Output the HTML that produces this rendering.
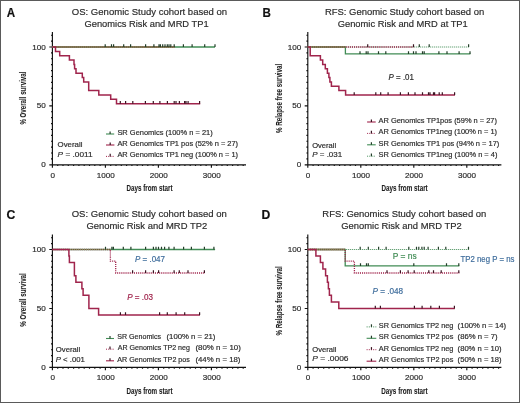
<!DOCTYPE html>
<html><head><meta charset="utf-8"><style>
html,body{margin:0;padding:0;background:#fff;width:520px;height:403px;overflow:hidden;font-family:"Liberation Sans",sans-serif}
</style></head><body>
<svg width="520" height="403" viewBox="0 0 520 403" style="position:absolute;left:0;top:0;will-change:transform;filter:blur(0.3px)">
<g font-family='"Liberation Sans", sans-serif'>
<text x="6.70" y="17.00" font-size="12.3" font-weight="bold" fill="#111" text-anchor="start" textLength="8.40" lengthAdjust="spacingAndGlyphs"  stroke="#111" stroke-width="0.18">A</text>
<text x="262.50" y="16.80" font-size="12.3" font-weight="bold" fill="#111" text-anchor="start" textLength="8.40" lengthAdjust="spacingAndGlyphs"  stroke="#111" stroke-width="0.18">B</text>
<text x="6.40" y="219.30" font-size="12.3" font-weight="bold" fill="#111" text-anchor="start" textLength="8.80" lengthAdjust="spacingAndGlyphs"  stroke="#111" stroke-width="0.18">C</text>
<text x="261.60" y="218.90" font-size="12.3" font-weight="bold" fill="#111" text-anchor="start" textLength="8.80" lengthAdjust="spacingAndGlyphs"  stroke="#111" stroke-width="0.18">D</text>
<text x="71.80" y="15.00" font-size="9.8" font-weight="normal" fill="#2b2b2b" text-anchor="start" textLength="155.30" lengthAdjust="spacingAndGlyphs"  stroke="#2b2b2b" stroke-width="0.18">OS: Genomic Study cohort based on</text>
<text x="84.50" y="26.80" font-size="9.8" font-weight="normal" fill="#2b2b2b" text-anchor="start" textLength="124.10" lengthAdjust="spacingAndGlyphs"  stroke="#2b2b2b" stroke-width="0.18">Genomics Risk and MRD TP1</text>
<text x="324.90" y="15.00" font-size="9.8" font-weight="normal" fill="#2b2b2b" text-anchor="start" textLength="159.30" lengthAdjust="spacingAndGlyphs"  stroke="#2b2b2b" stroke-width="0.18">RFS: Genomic Study cohort based on</text>
<text x="337.70" y="26.60" font-size="9.8" font-weight="normal" fill="#2b2b2b" text-anchor="start" textLength="130.10" lengthAdjust="spacingAndGlyphs"  stroke="#2b2b2b" stroke-width="0.18">Genomic Risk and MRD at TP1</text>
<text x="71.70" y="217.30" font-size="9.8" font-weight="normal" fill="#2b2b2b" text-anchor="start" textLength="155.10" lengthAdjust="spacingAndGlyphs"  stroke="#2b2b2b" stroke-width="0.18">OS: Genomic Study cohort based on</text>
<text x="86.40" y="228.80" font-size="9.8" font-weight="normal" fill="#2b2b2b" text-anchor="start" textLength="120.80" lengthAdjust="spacingAndGlyphs"  stroke="#2b2b2b" stroke-width="0.18">Genomic Risk and MRD TP2</text>
<text x="322.30" y="217.30" font-size="9.8" font-weight="normal" fill="#2b2b2b" text-anchor="start" textLength="164.00" lengthAdjust="spacingAndGlyphs"  stroke="#2b2b2b" stroke-width="0.18">RFS: Genomics Study cohort based on</text>
<text x="341.30" y="228.80" font-size="9.8" font-weight="normal" fill="#2b2b2b" text-anchor="start" textLength="120.40" lengthAdjust="spacingAndGlyphs"  stroke="#2b2b2b" stroke-width="0.18">Genomic Risk and MRD TP2</text>
<path d="M52.40 32.00V167.70M49.30 164.80H246.00M51.00 158.91H52.40M51.00 153.02H52.40M51.00 147.13H52.40M51.00 141.24H52.40M51.00 135.35H52.40M51.00 129.46H52.40M51.00 123.57H52.40M51.00 117.68H52.40M51.00 111.79H52.40M49.30 105.90H52.40M51.00 100.01H52.40M51.00 94.12H52.40M51.00 88.23H52.40M51.00 82.34H52.40M51.00 76.45H52.40M51.00 70.56H52.40M51.00 64.67H52.40M51.00 58.78H52.40M51.00 52.89H52.40M49.30 47.00H52.40M51.00 41.11H52.40M51.00 35.22H52.40M57.70 164.80V166.10M63.00 164.80V166.10M68.30 164.80V166.10M73.60 164.80V166.10M78.90 164.80V166.10M84.20 164.80V166.10M89.50 164.80V166.10M94.80 164.80V166.10M100.10 164.80V166.10M105.40 164.80V167.70M110.70 164.80V166.10M116.00 164.80V166.10M121.30 164.80V166.10M126.60 164.80V166.10M131.90 164.80V166.10M137.20 164.80V166.10M142.50 164.80V166.10M147.80 164.80V166.10M153.10 164.80V166.10M158.40 164.80V167.70M163.70 164.80V166.10M169.00 164.80V166.10M174.30 164.80V166.10M179.60 164.80V166.10M184.90 164.80V166.10M190.20 164.80V166.10M195.50 164.80V166.10M200.80 164.80V166.10M206.10 164.80V166.10M211.40 164.80V167.70M216.70 164.80V166.10M222.00 164.80V166.10M227.30 164.80V166.10M232.60 164.80V166.10M237.90 164.80V166.10M243.20 164.80V166.10" stroke="#111" stroke-width="1.15" fill="none"/>
<text x="45.80" y="167.30" font-size="8.1" font-weight="normal" fill="#2b2b2b" text-anchor="end" stroke="#333" stroke-width="0.2">0</text>
<text x="45.80" y="108.40" font-size="8.1" font-weight="normal" fill="#2b2b2b" text-anchor="end" stroke="#333" stroke-width="0.2">50</text>
<text x="45.80" y="49.50" font-size="8.1" font-weight="normal" fill="#2b2b2b" text-anchor="end" stroke="#333" stroke-width="0.2">100</text>
<text x="52.70" y="177.70" font-size="8.1" font-weight="normal" fill="#2b2b2b" text-anchor="middle" stroke="#333" stroke-width="0.2">0</text>
<text x="105.70" y="177.70" font-size="8.1" font-weight="normal" fill="#2b2b2b" text-anchor="middle" stroke="#333" stroke-width="0.2">1000</text>
<text x="158.70" y="177.70" font-size="8.1" font-weight="normal" fill="#2b2b2b" text-anchor="middle" stroke="#333" stroke-width="0.2">2000</text>
<text x="211.70" y="177.70" font-size="8.1" font-weight="normal" fill="#2b2b2b" text-anchor="middle" stroke="#333" stroke-width="0.2">3000</text>
<text x="126.50" y="191.20" font-size="9.7" font-weight="bold" fill="#1e1e1e" text-anchor="start" textLength="46.00" lengthAdjust="spacingAndGlyphs" stroke="#1e1e1e" stroke-width="0.1">Days from start</text>
<g transform="translate(26.40,124.30) rotate(-90)">
<text x="-0.30" y="0.00" font-size="9.5" font-weight="bold" fill="#1e1e1e" text-anchor="start" textLength="53.00" lengthAdjust="spacingAndGlyphs" stroke="#1e1e1e" stroke-width="0.1">% Overall survival</text>
</g>
<path d="M307.80 32.00V167.70M304.70 164.80H501.40M306.40 158.91H307.80M306.40 153.02H307.80M306.40 147.13H307.80M306.40 141.24H307.80M306.40 135.35H307.80M306.40 129.46H307.80M306.40 123.57H307.80M306.40 117.68H307.80M306.40 111.79H307.80M304.70 105.90H307.80M306.40 100.01H307.80M306.40 94.12H307.80M306.40 88.23H307.80M306.40 82.34H307.80M306.40 76.45H307.80M306.40 70.56H307.80M306.40 64.67H307.80M306.40 58.78H307.80M306.40 52.89H307.80M304.70 47.00H307.80M306.40 41.11H307.80M306.40 35.22H307.80M313.10 164.80V166.10M318.40 164.80V166.10M323.70 164.80V166.10M329.00 164.80V166.10M334.30 164.80V166.10M339.60 164.80V166.10M344.90 164.80V166.10M350.20 164.80V166.10M355.50 164.80V166.10M360.80 164.80V167.70M366.10 164.80V166.10M371.40 164.80V166.10M376.70 164.80V166.10M382.00 164.80V166.10M387.30 164.80V166.10M392.60 164.80V166.10M397.90 164.80V166.10M403.20 164.80V166.10M408.50 164.80V166.10M413.80 164.80V167.70M419.10 164.80V166.10M424.40 164.80V166.10M429.70 164.80V166.10M435.00 164.80V166.10M440.30 164.80V166.10M445.60 164.80V166.10M450.90 164.80V166.10M456.20 164.80V166.10M461.50 164.80V166.10M466.80 164.80V167.70M472.10 164.80V166.10M477.40 164.80V166.10M482.70 164.80V166.10M488.00 164.80V166.10M493.30 164.80V166.10M498.60 164.80V166.10" stroke="#111" stroke-width="1.15" fill="none"/>
<text x="301.20" y="167.30" font-size="8.1" font-weight="normal" fill="#2b2b2b" text-anchor="end" stroke="#333" stroke-width="0.2">0</text>
<text x="301.20" y="108.40" font-size="8.1" font-weight="normal" fill="#2b2b2b" text-anchor="end" stroke="#333" stroke-width="0.2">50</text>
<text x="301.20" y="49.50" font-size="8.1" font-weight="normal" fill="#2b2b2b" text-anchor="end" stroke="#333" stroke-width="0.2">100</text>
<text x="308.10" y="177.70" font-size="8.1" font-weight="normal" fill="#2b2b2b" text-anchor="middle" stroke="#333" stroke-width="0.2">0</text>
<text x="361.10" y="177.70" font-size="8.1" font-weight="normal" fill="#2b2b2b" text-anchor="middle" stroke="#333" stroke-width="0.2">1000</text>
<text x="414.10" y="177.70" font-size="8.1" font-weight="normal" fill="#2b2b2b" text-anchor="middle" stroke="#333" stroke-width="0.2">2000</text>
<text x="467.10" y="177.70" font-size="8.1" font-weight="normal" fill="#2b2b2b" text-anchor="middle" stroke="#333" stroke-width="0.2">3000</text>
<text x="381.50" y="191.20" font-size="9.7" font-weight="bold" fill="#1e1e1e" text-anchor="start" textLength="46.20" lengthAdjust="spacingAndGlyphs" stroke="#1e1e1e" stroke-width="0.1">Days from start</text>
<g transform="translate(281.90,132.70) rotate(-90)">
<text x="-0.30" y="0.00" font-size="9.5" font-weight="bold" fill="#1e1e1e" text-anchor="start" textLength="69.20" lengthAdjust="spacingAndGlyphs" stroke="#1e1e1e" stroke-width="0.1">% Relapse free survival</text>
</g>
<path d="M52.40 234.50V370.30M49.30 367.40H246.00M51.00 361.50H52.40M51.00 355.61H52.40M51.00 349.71H52.40M51.00 343.82H52.40M51.00 337.92H52.40M51.00 332.03H52.40M51.00 326.13H52.40M51.00 320.24H52.40M51.00 314.34H52.40M49.30 308.45H52.40M51.00 302.56H52.40M51.00 296.66H52.40M51.00 290.76H52.40M51.00 284.87H52.40M51.00 278.98H52.40M51.00 273.08H52.40M51.00 267.19H52.40M51.00 261.29H52.40M51.00 255.39H52.40M49.30 249.50H52.40M51.00 243.60H52.40M51.00 237.71H52.40M57.70 367.40V368.70M63.00 367.40V368.70M68.30 367.40V368.70M73.60 367.40V368.70M78.90 367.40V368.70M84.20 367.40V368.70M89.50 367.40V368.70M94.80 367.40V368.70M100.10 367.40V368.70M105.40 367.40V370.30M110.70 367.40V368.70M116.00 367.40V368.70M121.30 367.40V368.70M126.60 367.40V368.70M131.90 367.40V368.70M137.20 367.40V368.70M142.50 367.40V368.70M147.80 367.40V368.70M153.10 367.40V368.70M158.40 367.40V370.30M163.70 367.40V368.70M169.00 367.40V368.70M174.30 367.40V368.70M179.60 367.40V368.70M184.90 367.40V368.70M190.20 367.40V368.70M195.50 367.40V368.70M200.80 367.40V368.70M206.10 367.40V368.70M211.40 367.40V370.30M216.70 367.40V368.70M222.00 367.40V368.70M227.30 367.40V368.70M232.60 367.40V368.70M237.90 367.40V368.70M243.20 367.40V368.70" stroke="#111" stroke-width="1.15" fill="none"/>
<text x="45.80" y="369.90" font-size="8.1" font-weight="normal" fill="#2b2b2b" text-anchor="end" stroke="#333" stroke-width="0.2">0</text>
<text x="45.80" y="310.95" font-size="8.1" font-weight="normal" fill="#2b2b2b" text-anchor="end" stroke="#333" stroke-width="0.2">50</text>
<text x="45.80" y="252.00" font-size="8.1" font-weight="normal" fill="#2b2b2b" text-anchor="end" stroke="#333" stroke-width="0.2">100</text>
<text x="52.70" y="380.30" font-size="8.1" font-weight="normal" fill="#2b2b2b" text-anchor="middle" stroke="#333" stroke-width="0.2">0</text>
<text x="105.70" y="380.30" font-size="8.1" font-weight="normal" fill="#2b2b2b" text-anchor="middle" stroke="#333" stroke-width="0.2">1000</text>
<text x="158.70" y="380.30" font-size="8.1" font-weight="normal" fill="#2b2b2b" text-anchor="middle" stroke="#333" stroke-width="0.2">2000</text>
<text x="211.70" y="380.30" font-size="8.1" font-weight="normal" fill="#2b2b2b" text-anchor="middle" stroke="#333" stroke-width="0.2">3000</text>
<text x="126.50" y="393.70" font-size="9.7" font-weight="bold" fill="#1e1e1e" text-anchor="start" textLength="46.00" lengthAdjust="spacingAndGlyphs" stroke="#1e1e1e" stroke-width="0.1">Days from start</text>
<g transform="translate(26.40,326.50) rotate(-90)">
<text x="-0.30" y="0.00" font-size="9.5" font-weight="bold" fill="#1e1e1e" text-anchor="start" textLength="53.60" lengthAdjust="spacingAndGlyphs" stroke="#1e1e1e" stroke-width="0.1">% Overall survival</text>
</g>
<path d="M307.80 234.50V370.30M304.70 367.40H501.40M306.40 361.50H307.80M306.40 355.61H307.80M306.40 349.71H307.80M306.40 343.82H307.80M306.40 337.92H307.80M306.40 332.03H307.80M306.40 326.13H307.80M306.40 320.24H307.80M306.40 314.34H307.80M304.70 308.45H307.80M306.40 302.56H307.80M306.40 296.66H307.80M306.40 290.76H307.80M306.40 284.87H307.80M306.40 278.98H307.80M306.40 273.08H307.80M306.40 267.19H307.80M306.40 261.29H307.80M306.40 255.39H307.80M304.70 249.50H307.80M306.40 243.60H307.80M306.40 237.71H307.80M313.10 367.40V368.70M318.40 367.40V368.70M323.70 367.40V368.70M329.00 367.40V368.70M334.30 367.40V368.70M339.60 367.40V368.70M344.90 367.40V368.70M350.20 367.40V368.70M355.50 367.40V368.70M360.80 367.40V370.30M366.10 367.40V368.70M371.40 367.40V368.70M376.70 367.40V368.70M382.00 367.40V368.70M387.30 367.40V368.70M392.60 367.40V368.70M397.90 367.40V368.70M403.20 367.40V368.70M408.50 367.40V368.70M413.80 367.40V370.30M419.10 367.40V368.70M424.40 367.40V368.70M429.70 367.40V368.70M435.00 367.40V368.70M440.30 367.40V368.70M445.60 367.40V368.70M450.90 367.40V368.70M456.20 367.40V368.70M461.50 367.40V368.70M466.80 367.40V370.30M472.10 367.40V368.70M477.40 367.40V368.70M482.70 367.40V368.70M488.00 367.40V368.70M493.30 367.40V368.70M498.60 367.40V368.70" stroke="#111" stroke-width="1.15" fill="none"/>
<text x="301.20" y="369.90" font-size="8.1" font-weight="normal" fill="#2b2b2b" text-anchor="end" stroke="#333" stroke-width="0.2">0</text>
<text x="301.20" y="310.95" font-size="8.1" font-weight="normal" fill="#2b2b2b" text-anchor="end" stroke="#333" stroke-width="0.2">50</text>
<text x="301.20" y="252.00" font-size="8.1" font-weight="normal" fill="#2b2b2b" text-anchor="end" stroke="#333" stroke-width="0.2">100</text>
<text x="308.10" y="380.30" font-size="8.1" font-weight="normal" fill="#2b2b2b" text-anchor="middle" stroke="#333" stroke-width="0.2">0</text>
<text x="361.10" y="380.30" font-size="8.1" font-weight="normal" fill="#2b2b2b" text-anchor="middle" stroke="#333" stroke-width="0.2">1000</text>
<text x="414.10" y="380.30" font-size="8.1" font-weight="normal" fill="#2b2b2b" text-anchor="middle" stroke="#333" stroke-width="0.2">2000</text>
<text x="467.10" y="380.30" font-size="8.1" font-weight="normal" fill="#2b2b2b" text-anchor="middle" stroke="#333" stroke-width="0.2">3000</text>
<text x="381.30" y="393.80" font-size="9.7" font-weight="bold" fill="#1e1e1e" text-anchor="start" textLength="46.30" lengthAdjust="spacingAndGlyphs" stroke="#1e1e1e" stroke-width="0.1">Days from start</text>
<g transform="translate(281.90,335.20) rotate(-90)">
<text x="-0.30" y="0.00" font-size="9.5" font-weight="bold" fill="#1e1e1e" text-anchor="start" textLength="69.20" lengthAdjust="spacingAndGlyphs" stroke="#1e1e1e" stroke-width="0.1">% Relapse free survival</text>
</g>
<path d="M52.40 47.00H215.0" stroke="#418c55" stroke-width="1.3" fill="none"/>
<path d="M52.40 47.00H174.8" stroke="#a0244c" stroke-width="1.3" fill="none" stroke-dasharray="1.1 1"/>
<path d="M52.40 47.00H174.8" stroke="#978d62" stroke-width="1.3" fill="none"/>
<path d="M52.40 47.00H174.8" stroke="#5e5338" stroke-width="1.3" fill="none" stroke-dasharray="0.9 1.1"/>
<path d="M105.20 47.00V44.30M111.50 47.00V44.30M113.60 47.00V44.30M123.70 47.00V44.30M130.60 47.00V44.30M145.60 47.00V44.30M153.90 47.00V44.30M159.00 47.00V44.30M160.40 47.00V44.30M162.70 47.00V44.30M165.00 47.00V44.30M167.30 47.00V44.30M169.00 47.00V44.30M170.80 47.00V44.30M174.20 47.00V44.30M183.40 47.00V44.30M192.10 47.00V44.30M204.70 47.00V44.30M215.00 47.00V44.30" stroke="#243f2a" stroke-width="1.2" fill="none"/>
<path d="M52.40 47.00H55.50V51.40H59.70V55.70H69.40V60.10H74.00V64.40H74.60V68.80H76.00V73.20H82.30V77.50H83.70V81.90H88.70V90.60H98.80V94.90H110.70V99.30H116.50V103.70H200.20" stroke="#a0244c" stroke-width="1.5" fill="none"/>
<path d="M120.30 103.70V101.00M125.60 103.70V101.00M132.80 103.70V101.00M145.40 103.70V101.00M153.30 103.70V101.00M159.90 103.70V101.00M167.40 103.70V101.00M174.20 103.70V101.00M176.00 103.70V101.00M179.40 103.70V101.00M184.60 103.70V101.00M186.00 103.70V101.00M188.10 103.70V101.00M199.60 103.70V101.00" stroke="#3a1522" stroke-width="1.2" fill="none"/>
<path d="M106.00 134.00H114.20" stroke="#418c55" stroke-width="1.1" fill="none"/>
<path d="M110.10 134.00V131.40" stroke="#243f2a" stroke-width="1.2" fill="none"/>
<path d="M106.00 145.00H114.40" stroke="#a0244c" stroke-width="1.1" fill="none"/>
<path d="M110.20 145.00V142.40" stroke="#3a1522" stroke-width="1.2" fill="none"/>
<path d="M106.00 156.40H114.40" stroke="#a0244c" stroke-width="1.0" fill="none" stroke-dasharray="1 1.2"/>
<path d="M110.20 156.40V153.80" stroke="#3a1522" stroke-width="1.2" fill="none"/>
<text x="117.40" y="134.90" font-size="7.4" font-weight="normal" fill="#2b2b2b" text-anchor="start" textLength="95.30" lengthAdjust="spacingAndGlyphs"  stroke="#2b2b2b" stroke-width="0.18">SR Genomics (100% n = 21)</text>
<text x="117.40" y="146.10" font-size="7.4" font-weight="normal" fill="#2b2b2b" text-anchor="start" textLength="120.70" lengthAdjust="spacingAndGlyphs"  stroke="#2b2b2b" stroke-width="0.18">AR Genomics TP1 pos (52% n = 27)</text>
<text x="117.40" y="157.20" font-size="7.4" font-weight="normal" fill="#2b2b2b" text-anchor="start" textLength="120.70" lengthAdjust="spacingAndGlyphs"  stroke="#2b2b2b" stroke-width="0.18">AR Genomics TP1 neg (100% n = 1)</text>
<text x="57.60" y="147.30" font-size="7.7" font-weight="normal" fill="#2b2b2b" text-anchor="start" textLength="24.80" lengthAdjust="spacingAndGlyphs"  stroke="#2b2b2b" stroke-width="0.18">Overall</text>
<text x="57.60" y="157.20" font-size="7.7" font-weight="normal" fill="#2b2b2b" text-anchor="start" textLength="35.00" lengthAdjust="spacingAndGlyphs"  stroke="#2b2b2b" stroke-width="0.18"><tspan font-style="italic">P</tspan> = .0011</text>
<path d="M307.80 47.00H345.4V53.9H470.4" stroke="#418c55" stroke-width="1.3" fill="none"/>
<path d="M307.80 47.00H469.5" stroke="#418c55" stroke-width="1.1" fill="none" stroke-dasharray="1 1"/>
<path d="M307.80 47.00H413.5" stroke="#a0244c" stroke-width="1.3" fill="none" stroke-dasharray="1.1 1"/>
<path d="M307.80 47.00H345.4" stroke="#978d62" stroke-width="1.3" fill="none"/>
<path d="M307.80 47.00H345.4" stroke="#5e5338" stroke-width="1.3" fill="none" stroke-dasharray="0.9 1.1"/>
<path d="M360.00 53.90V51.20M366.20 53.90V51.20M368.00 53.90V51.20M378.50 53.90V51.20M385.80 53.90V51.20M408.50 53.90V51.20M413.50 53.90V51.20M416.00 53.90V51.20M422.50 53.90V51.20M424.20 53.90V51.20M438.90 53.90V51.20M447.00 53.90V51.20M459.10 53.90V51.20M470.00 53.90V51.20" stroke="#243f2a" stroke-width="1.2" fill="none"/>
<path d="M367.70 47.00V44.30M413.50 47.00V44.30" stroke="#3a1522" stroke-width="1.2" fill="none"/>
<path d="M419.30 47.00V44.30M429.20 47.00V44.30M468.60 47.00V44.30" stroke="#243f2a" stroke-width="1.2" fill="none"/>
<path d="M307.80 47.00H310.20V55.70H320.40V60.10H322.70V64.40H325.30V68.80H327.40V73.20H328.90V77.50H329.90V81.90H331.40V86.20H338.90V90.60H345.60V94.90H455.00" stroke="#a0244c" stroke-width="1.5" fill="none"/>
<path d="M354.20 94.90V92.20M375.80 94.90V92.20M380.70 94.90V92.20M388.10 94.90V92.20M400.40 94.90V92.20M408.40 94.90V92.20M415.00 94.90V92.20M422.50 94.90V92.20M428.50 94.90V92.20M430.00 94.90V92.20M433.50 94.90V92.20M434.60 94.90V92.20M439.20 94.90V92.20M442.30 94.90V92.20M454.60 94.90V92.20" stroke="#3a1522" stroke-width="1.2" fill="none"/>
<text x="388.60" y="80.00" font-size="8.2" font-weight="normal" fill="#2b2b2b" text-anchor="start" textLength="25.30" lengthAdjust="spacingAndGlyphs"  stroke="#2b2b2b" stroke-width="0.18"><tspan font-style="italic">P</tspan> = .01</text>
<path d="M367.10 122.00H375.70" stroke="#a0244c" stroke-width="1.1" fill="none"/>
<path d="M371.40 122.00V119.40" stroke="#3a1522" stroke-width="1.2" fill="none"/>
<path d="M367.10 133.40H375.70" stroke="#a0244c" stroke-width="1.0" fill="none" stroke-dasharray="1 1.2"/>
<path d="M371.40 133.40V130.80" stroke="#3a1522" stroke-width="1.2" fill="none"/>
<path d="M367.10 144.80H375.70" stroke="#418c55" stroke-width="1.1" fill="none"/>
<path d="M371.40 144.80V142.20" stroke="#243f2a" stroke-width="1.2" fill="none"/>
<path d="M367.10 156.20H375.70" stroke="#418c55" stroke-width="1.0" fill="none" stroke-dasharray="1 1.2"/>
<path d="M371.40 156.20V153.60" stroke="#243f2a" stroke-width="1.2" fill="none"/>
<text x="378.50" y="122.90" font-size="7.4" font-weight="normal" fill="#2b2b2b" text-anchor="start" textLength="118.50" lengthAdjust="spacingAndGlyphs"  stroke="#2b2b2b" stroke-width="0.18">AR Genomics TP1pos (59% n = 27)</text>
<text x="378.50" y="134.20" font-size="7.4" font-weight="normal" fill="#2b2b2b" text-anchor="start" textLength="118.50" lengthAdjust="spacingAndGlyphs"  stroke="#2b2b2b" stroke-width="0.18">AR Genomics TP1neg (100% n = 1)</text>
<text x="378.50" y="145.70" font-size="7.4" font-weight="normal" fill="#2b2b2b" text-anchor="start" textLength="120.80" lengthAdjust="spacingAndGlyphs"  stroke="#2b2b2b" stroke-width="0.18">SR Genomics TP1 pos (94% n = 17)</text>
<text x="378.50" y="157.20" font-size="7.4" font-weight="normal" fill="#2b2b2b" text-anchor="start" textLength="118.90" lengthAdjust="spacingAndGlyphs"  stroke="#2b2b2b" stroke-width="0.18">SR Genomics TP1neg (100% n = 4)</text>
<text x="312.20" y="147.60" font-size="7.7" font-weight="normal" fill="#2b2b2b" text-anchor="start" textLength="24.00" lengthAdjust="spacingAndGlyphs"  stroke="#2b2b2b" stroke-width="0.18">Overall</text>
<text x="312.20" y="156.90" font-size="7.7" font-weight="normal" fill="#2b2b2b" text-anchor="start" textLength="30.00" lengthAdjust="spacingAndGlyphs"  stroke="#2b2b2b" stroke-width="0.18"><tspan font-style="italic">P</tspan> = .031</text>
<path d="M52.40 249.50H215.1" stroke="#418c55" stroke-width="1.3" fill="none"/>
<path d="M52.40 249.50H110.4V261.2H115.7V273.0H204.8" stroke="#a0244c" stroke-width="1.3" fill="none" stroke-dasharray="1.1 1"/>
<path d="M68.9 249.50H110.4" stroke="#978d62" stroke-width="1.2" fill="none"/>
<path d="M68.9 249.50H110.4" stroke="#5e5338" stroke-width="1.2" fill="none" stroke-dasharray="0.9 1.1"/>
<path d="M105.50 249.50V246.80M111.90 249.50V246.80M113.40 249.50V246.80M123.30 249.50V246.80M130.90 249.50V246.80M145.60 249.50V246.80M153.40 249.50V246.80M156.00 249.50V246.80M158.50 249.50V246.80M161.50 249.50V246.80M164.60 249.50V246.80M168.90 249.50V246.80M174.10 249.50V246.80M183.60 249.50V246.80M191.40 249.50V246.80M204.40 249.50V246.80M213.90 249.50V246.80" stroke="#243f2a" stroke-width="1.2" fill="none"/>
<path d="M132.60 273.00V270.30M145.60 273.00V270.30M153.40 273.00V270.30M158.60 273.00V270.30M174.10 273.00V270.30M179.30 273.00V270.30M188.00 273.00V270.30M204.40 273.00V270.30" stroke="#3a1522" stroke-width="1.2" fill="none"/>
<path d="M52.40 249.50H68.90V256.00H69.40V262.60H74.40V275.70H75.90V282.20H81.90V288.80H83.10V295.30H88.90V308.40H98.60V314.90H200.00" stroke="#a0244c" stroke-width="1.5" fill="none"/>
<path d="M120.40 314.90V312.20M125.50 314.90V312.20M159.60 314.90V312.20M167.30 314.90V312.20M176.10 314.90V312.20M184.70 314.90V312.20M199.60 314.90V312.20" stroke="#3a1522" stroke-width="1.2" fill="none"/>
<text x="135.00" y="262.10" font-size="8.2" font-weight="normal" fill="#3f6d9c" text-anchor="start" textLength="30.00" lengthAdjust="spacingAndGlyphs"  stroke="#3f6d9c" stroke-width="0.18"><tspan font-style="italic">P</tspan> = .047</text>
<text x="127.20" y="300.40" font-size="8.2" font-weight="normal" fill="#a0244c" text-anchor="start" textLength="25.90" lengthAdjust="spacingAndGlyphs"  stroke="#a0244c" stroke-width="0.18"><tspan font-style="italic">P</tspan> = .03</text>
<path d="M106.00 338.50H114.00" stroke="#418c55" stroke-width="1.1" fill="none"/>
<path d="M110.00 338.50V335.90" stroke="#243f2a" stroke-width="1.2" fill="none"/>
<path d="M106.00 349.20H114.00" stroke="#a0244c" stroke-width="1.0" fill="none" stroke-dasharray="1 1.2"/>
<path d="M110.00 349.20V346.60" stroke="#3a1522" stroke-width="1.2" fill="none"/>
<path d="M106.00 360.80H114.00" stroke="#a0244c" stroke-width="1.1" fill="none"/>
<path d="M110.00 360.80V358.20" stroke="#3a1522" stroke-width="1.2" fill="none"/>
<text x="117.30" y="339.40" font-size="7.4" font-weight="normal" fill="#2b2b2b" text-anchor="start" textLength="43.70" lengthAdjust="spacingAndGlyphs"  stroke="#2b2b2b" stroke-width="0.18">SR Genomics</text>
<text x="166.50" y="339.40" font-size="7.4" font-weight="normal" fill="#2b2b2b" text-anchor="start" textLength="48.90" lengthAdjust="spacingAndGlyphs"  stroke="#2b2b2b" stroke-width="0.18">(100% n = 21)</text>
<text x="117.80" y="350.40" font-size="7.4" font-weight="normal" fill="#2b2b2b" text-anchor="start" textLength="72.10" lengthAdjust="spacingAndGlyphs"  stroke="#2b2b2b" stroke-width="0.18">AR Genomics TP2 neg</text>
<text x="195.40" y="350.40" font-size="7.4" font-weight="normal" fill="#2b2b2b" text-anchor="start" textLength="45.40" lengthAdjust="spacingAndGlyphs"  stroke="#2b2b2b" stroke-width="0.18">(80% n = 10)</text>
<text x="117.30" y="361.70" font-size="7.4" font-weight="normal" fill="#2b2b2b" text-anchor="start" textLength="72.60" lengthAdjust="spacingAndGlyphs"  stroke="#2b2b2b" stroke-width="0.18">AR Genomics TP2 pos</text>
<text x="195.40" y="361.70" font-size="7.4" font-weight="normal" fill="#2b2b2b" text-anchor="start" textLength="45.10" lengthAdjust="spacingAndGlyphs"  stroke="#2b2b2b" stroke-width="0.18">(44% n = 18)</text>
<text x="55.80" y="352.30" font-size="7.7" font-weight="normal" fill="#2b2b2b" text-anchor="start" textLength="24.50" lengthAdjust="spacingAndGlyphs"  stroke="#2b2b2b" stroke-width="0.18">Overall</text>
<text x="55.80" y="361.50" font-size="7.7" font-weight="normal" fill="#2b2b2b" text-anchor="start" textLength="29.10" lengthAdjust="spacingAndGlyphs"  stroke="#2b2b2b" stroke-width="0.18"><tspan font-style="italic">P</tspan> &lt; .001</text>
<path d="M307.80 249.50H345.2V265.9H459.3" stroke="#418c55" stroke-width="1.3" fill="none"/>
<path d="M307.80 249.50H469.2" stroke="#418c55" stroke-width="1.1" fill="none" stroke-dasharray="1 1"/>
<path d="M307.80 249.50H345.2V261.2H354.4V273.0H459.3" stroke="#a0244c" stroke-width="1.3" fill="none" stroke-dasharray="1.1 1"/>
<path d="M307.80 249.50H345.2" stroke="#978d62" stroke-width="1.3" fill="none"/>
<path d="M307.80 249.50H345.2" stroke="#5e5338" stroke-width="1.3" fill="none" stroke-dasharray="0.9 1.1"/>
<path d="M360.20 249.50V246.80M368.30 249.50V246.80M378.60 249.50V246.80M386.10 249.50V246.80M408.80 249.50V246.80M416.50 249.50V246.80M418.80 249.50V246.80M421.90 249.50V246.80M424.20 249.50V246.80M428.10 249.50V246.80M438.40 249.50V246.80M445.80 249.50V246.80M468.50 249.50V246.80" stroke="#243f2a" stroke-width="1.2" fill="none"/>
<path d="M360.50 265.90V263.20M366.50 265.90V263.20M368.30 265.90V263.20M413.80 265.90V263.20M446.50 265.90V263.20M458.80 265.90V263.20" stroke="#243f2a" stroke-width="1.2" fill="none"/>
<path d="M387.00 273.00V270.30M400.40 273.00V270.30M408.10 273.00V270.30M414.20 273.00V270.30M428.80 273.00V270.30M433.50 273.00V270.30M441.20 273.00V270.30M458.80 273.00V270.30" stroke="#3a1522" stroke-width="1.2" fill="none"/>
<path d="M307.80 249.50H315.90V256.00H320.40V262.60H322.90V269.10H325.60V275.70H327.40V282.20H328.40V288.80H329.40V295.30H331.40V301.90H338.80V308.40H454.80" stroke="#a0244c" stroke-width="1.5" fill="none"/>
<path d="M375.30 308.40V305.70M380.40 308.40V305.70M414.40 308.40V305.70M422.10 308.40V305.70M430.80 308.40V305.70M439.40 308.40V305.70M454.40 308.40V305.70" stroke="#3a1522" stroke-width="1.2" fill="none"/>
<text x="392.70" y="258.60" font-size="8.2" font-weight="normal" fill="#418c55" text-anchor="start" textLength="23.90" lengthAdjust="spacingAndGlyphs"  stroke="#418c55" stroke-width="0.18">P = ns</text>
<text x="460.50" y="262.10" font-size="8.2" font-weight="normal" fill="#3f6d9c" text-anchor="start" textLength="53.90" lengthAdjust="spacingAndGlyphs"  stroke="#3f6d9c" stroke-width="0.18">TP2 neg P = ns</text>
<text x="372.40" y="294.00" font-size="8.2" font-weight="normal" fill="#3f6d9c" text-anchor="start" textLength="30.70" lengthAdjust="spacingAndGlyphs"  stroke="#3f6d9c" stroke-width="0.18"><tspan font-style="italic">P</tspan> = .048</text>
<path d="M366.60 326.90H376.30" stroke="#418c55" stroke-width="1.0" fill="none" stroke-dasharray="1 1.2"/>
<path d="M371.45 326.90V324.30" stroke="#243f2a" stroke-width="1.2" fill="none"/>
<path d="M366.60 338.30H376.30" stroke="#418c55" stroke-width="1.1" fill="none"/>
<path d="M371.45 338.30V335.70" stroke="#243f2a" stroke-width="1.2" fill="none"/>
<path d="M366.60 349.70H376.30" stroke="#a0244c" stroke-width="1.0" fill="none" stroke-dasharray="1 1.2"/>
<path d="M371.45 349.70V347.10" stroke="#3a1522" stroke-width="1.2" fill="none"/>
<path d="M366.60 361.20H376.30" stroke="#a0244c" stroke-width="1.1" fill="none"/>
<path d="M371.45 361.20V358.60" stroke="#3a1522" stroke-width="1.2" fill="none"/>
<text x="378.80" y="327.70" font-size="7.4" font-weight="normal" fill="#2b2b2b" text-anchor="start" textLength="74.60" lengthAdjust="spacingAndGlyphs"  stroke="#2b2b2b" stroke-width="0.18">SR Genomics TP2 neg</text>
<text x="457.60" y="327.70" font-size="7.4" font-weight="normal" fill="#2b2b2b" text-anchor="start" textLength="48.50" lengthAdjust="spacingAndGlyphs"  stroke="#2b2b2b" stroke-width="0.18">(100% n = 14)</text>
<text x="378.80" y="339.10" font-size="7.4" font-weight="normal" fill="#2b2b2b" text-anchor="start" textLength="74.60" lengthAdjust="spacingAndGlyphs"  stroke="#2b2b2b" stroke-width="0.18">SR Genomics TP2 pos</text>
<text x="457.60" y="339.10" font-size="7.4" font-weight="normal" fill="#2b2b2b" text-anchor="start" textLength="40.00" lengthAdjust="spacingAndGlyphs"  stroke="#2b2b2b" stroke-width="0.18">(86% n = 7)</text>
<text x="378.80" y="350.50" font-size="7.4" font-weight="normal" fill="#2b2b2b" text-anchor="start" textLength="74.60" lengthAdjust="spacingAndGlyphs"  stroke="#2b2b2b" stroke-width="0.18">AR Genomics TP2 neg</text>
<text x="457.60" y="350.50" font-size="7.4" font-weight="normal" fill="#2b2b2b" text-anchor="start" textLength="43.90" lengthAdjust="spacingAndGlyphs"  stroke="#2b2b2b" stroke-width="0.18">(80% n = 10)</text>
<text x="378.80" y="362.00" font-size="7.4" font-weight="normal" fill="#2b2b2b" text-anchor="start" textLength="74.60" lengthAdjust="spacingAndGlyphs"  stroke="#2b2b2b" stroke-width="0.18">AR Genomics TP2 pos</text>
<text x="457.60" y="362.00" font-size="7.4" font-weight="normal" fill="#2b2b2b" text-anchor="start" textLength="43.90" lengthAdjust="spacingAndGlyphs"  stroke="#2b2b2b" stroke-width="0.18">(50% n = 18)</text>
<text x="312.20" y="352.00" font-size="7.7" font-weight="normal" fill="#2b2b2b" text-anchor="start" textLength="24.20" lengthAdjust="spacingAndGlyphs"  stroke="#2b2b2b" stroke-width="0.18">Overall</text>
<text x="312.20" y="361.40" font-size="7.7" font-weight="normal" fill="#2b2b2b" text-anchor="start" textLength="36.30" lengthAdjust="spacingAndGlyphs"  stroke="#2b2b2b" stroke-width="0.18"><tspan font-style="italic">P</tspan> = .0006</text>
</g>
<rect x="0.5" y="0.5" width="519" height="402" fill="none" stroke="#5a5a5a" stroke-width="1"/>
</svg>
</body></html>
